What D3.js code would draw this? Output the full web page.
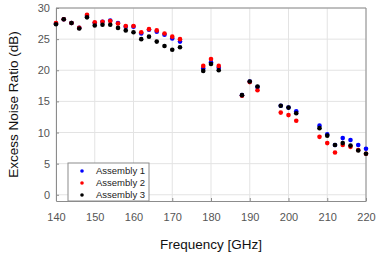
<!DOCTYPE html>
<html>
<head>
<meta charset="utf-8">
<script src="https://cdn.jsdelivr.net/npm/d3@7"></script>
<style>
  body { margin: 0; background: #fff; }
  text { font-family: Arial, "Liberation Sans", sans-serif; }
</style>
</head>
<body>
<svg id="chart" width="378" height="261"></svg>
<script>
var freqs = [140,142,144,146,148,150,152,154,156,158,160,162,164,166,168,170,172,
  178,180,182,188,190,192,198,200,202,208,210,212,214,216,218,220];

var assembly1 = [27.5,28.2,27.6,26.8,28.7,27.6,27.8,28.0,27.6,27.0,27.0,25.9,26.5,26.2,25.7,25.1,24.6,
  20.3,21.3,20.4,16.0,18.2,17.3,14.3,14.0,13.4,11.1,9.7,8.0,9.1,8.8,8.0,7.4];
var assembly2 = [27.6,28.2,27.6,26.8,28.9,27.7,27.8,27.9,27.5,27.1,27.1,26.1,26.6,26.4,25.9,25.4,25.0,
  20.7,21.8,20.7,15.9,18.1,16.8,13.2,12.8,11.9,9.3,8.3,6.8,8.0,7.7,7.2,6.6];
var assembly3 = [27.4,28.2,27.6,26.7,28.5,27.2,27.3,27.3,26.8,26.4,26.1,25.0,25.4,24.6,23.9,23.3,23.7,
  19.9,21.0,20.0,16.0,18.2,17.4,14.3,14.0,13.1,10.7,9.5,8.0,8.3,7.9,7.1,6.6];

var seriesNames = ["Assembly 1", "Assembly 2", "Assembly 3"];
var seriesColors = ["#0000ff", "#ff0000", "#000000"];
var xTicks = [140,150,160,170,180,190,200,210,220];
var yTicks = [0,5,10,15,20,25,30];

var svg = d3.select("#chart"),
    margin = {top: 8, left: 56, bottom: 60, right: 12},
    width = +svg.attr("width") - margin.left - margin.right,
    height = +svg.attr("height") - margin.top - margin.bottom;

var x = d3.scaleLinear().domain([140, 220]).range([0, width]);
var y = d3.scaleLinear().domain([-1, 30]).range([height, 0]);

var g = svg.append("g").attr("transform", "translate(" + margin.left + "," + margin.top + ")");

// grid
g.append("g").selectAll("line").data(xTicks).enter().append("line")
  .attr("x1", d => x(d)).attr("x2", d => x(d))
  .attr("y1", 0).attr("y2", height)
  .attr("stroke", "#e3e3e3").attr("stroke-width", 1);
g.append("g").selectAll("line").data(yTicks).enter().append("line")
  .attr("x1", 0).attr("x2", width)
  .attr("y1", d => y(d)).attr("y2", d => y(d))
  .attr("stroke", "#e3e3e3").attr("stroke-width", 1);

// axes
var xAxis = g.append("g").attr("transform", "translate(0," + height + ")")
  .call(d3.axisBottom(x).tickValues(xTicks).tickSizeInner(-3).tickSizeOuter(0).tickPadding(12));
var yAxis = g.append("g")
  .call(d3.axisLeft(y).tickValues(yTicks).tickSizeInner(-3).tickSizeOuter(0).tickPadding(6));
[xAxis, yAxis].forEach(function(a){
  a.select(".domain").attr("stroke", "#8c8c8c");
  a.selectAll(".tick line").attr("stroke", "#8c8c8c");
  a.selectAll(".tick text").attr("fill", "#555").style("font-size", "11px");
});

// top / right frame
g.append("line").attr("x1", 0).attr("x2", width).attr("y1", 0).attr("y2", 0).attr("stroke", "#8c8c8c");
g.append("line").attr("x1", width).attr("x2", width).attr("y1", 0).attr("y2", height).attr("stroke", "#8c8c8c");

// points
[assembly1, assembly2, assembly3].forEach(function(vals, i){
  g.append("g").selectAll("circle").data(vals).enter().append("circle")
    .attr("cx", (d, j) => x(freqs[j]))
    .attr("cy", d => y(d))
    .attr("r", 2.3)
    .attr("fill", seriesColors[i]);
});

// legend
var leg = g.append("g").attr("transform", "translate(12,155)");
leg.append("rect").attr("width", 81).attr("height", 38)
  .attr("fill", "#fff").attr("stroke", "#8c8c8c").attr("stroke-width", 1);
seriesNames.forEach(function(n, i){
  leg.append("circle").attr("cx", 14).attr("cy", 8 + i * 12).attr("r", 1.8).attr("fill", seriesColors[i]);
  leg.append("text").attr("x", 28).attr("y", 8 + i * 12).attr("dy", "0.35em")
    .style("font-size", "9.5px").attr("fill", "#222").text(n);
});

// titles
svg.append("text").attr("x", margin.left + width / 2).attr("y", 249)
  .attr("text-anchor", "middle").style("font-size", "13.5px").attr("fill", "#111")
  .text("Frequency [GHz]");
svg.append("text").attr("transform", "translate(18," + (margin.top + height / 2) + ") rotate(-90)")
  .attr("text-anchor", "middle").style("font-size", "13.5px").attr("fill", "#111")
  .text("Excess Noise Ratio (dB)");
</script>
</body>
</html>
